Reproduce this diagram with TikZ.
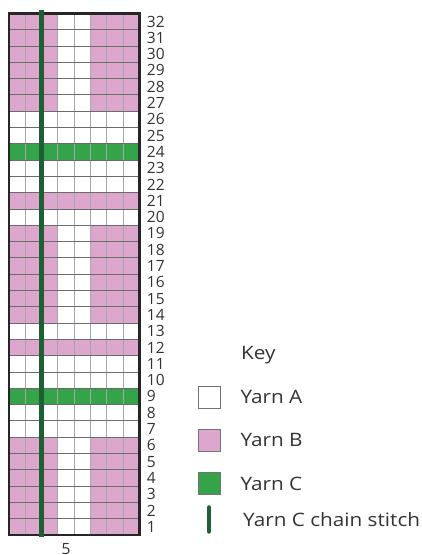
\documentclass[tikz,border=0pt]{standalone}
\usepackage{fontspec}
\setmainfont{Open Sans}
\newfontfamily\keyfont[FakeStretch=1.12]{Open Sans}
\usetikzlibrary{positioning}
\definecolor{yarnB}{RGB}{221,166,204}
\definecolor{yarnC}{RGB}{52,163,74}
\definecolor{chainC}{RGB}{28,96,52}

\begin{document}
\begin{tikzpicture}[
  x=1pt, y=1pt,
  vline/.style={draw=black!35, line width=0.9pt},
  hline/.style={draw=black!58, line width=0.9pt},
  border/.style={draw=black!85, line width=2.6pt},
  chain/.style={draw=chainC, line width=4.5pt},
  rownum/.style={anchor=west, inner sep=0pt, font=\fontsize{15.5}{16}\selectfont, text=black!80},
  keybox/.style={draw=black!55, line width=0.8pt, minimum size=22pt, inner sep=0pt},
  keytext/.style={anchor=west, inner sep=0pt, font=\keyfont\fontsize{18.5}{20}\selectfont, text=black!80}
]
\useasboundingbox (0,0) rectangle (422,555);
% chart
\begin{scope}[shift={(9pt,20pt)}, x=16.3pt, y=16.3pt]
  \foreach \lo/\hi in {0/6,13/19,26/32}
    \fill[yarnB] (0,\lo) rectangle (3,\hi) (5,\lo) rectangle (8,\hi);
  \foreach \r in {11,20} \fill[yarnB] (0,\r) rectangle (8,\r+1);
  \foreach \r in {8,23} \fill[yarnC] (0,\r) rectangle (8,\r+1);
  \foreach \c in {1,...,7} \draw[vline] (\c,0) -- (\c,32);
  \foreach \r in {1,...,31} \draw[hline] (0,\r) -- (8,\r);
  \draw[border] (0,0) rectangle (8,32);
  \draw[chain] (2,-0.12) -- (2,32.2);
  % row numbers
  \foreach \r in {1,...,32} \node[rownum] (row\r) at (8.45,\r-0.5) {\r};
  \node[rownum, anchor=center] (col5) at (3.5,-0.86) {5};
\end{scope}
% key
\node[keytext] (key) at (241,200) {Key};
\node[keybox, fill=white] (boxA) at (209,158) {};
\node[keybox, fill=yarnB, below=20.5pt of boxA] (boxB) {};
\node[keybox, fill=yarnC, below=20.5pt of boxB] (boxC) {};
\coordinate[below=24.5pt of boxC] (chainMid);
\coordinate[above=12pt of chainMid] (chainTop);
\coordinate[below=12pt of chainMid] (chainBot);
\draw[chain, line cap=round] (chainTop) -- (chainBot);
\node[keytext, right=20pt of boxA] (txtA) {Yarn A};
\node[keytext, right=20pt of boxB] (txtB) {Yarn B};
\node[keytext, right=20pt of boxC] (txtC) {Yarn C};
\node[keytext, right=34pt of chainMid] (txtChain) {Yarn C chain stitch};
\end{tikzpicture}
\end{document}
